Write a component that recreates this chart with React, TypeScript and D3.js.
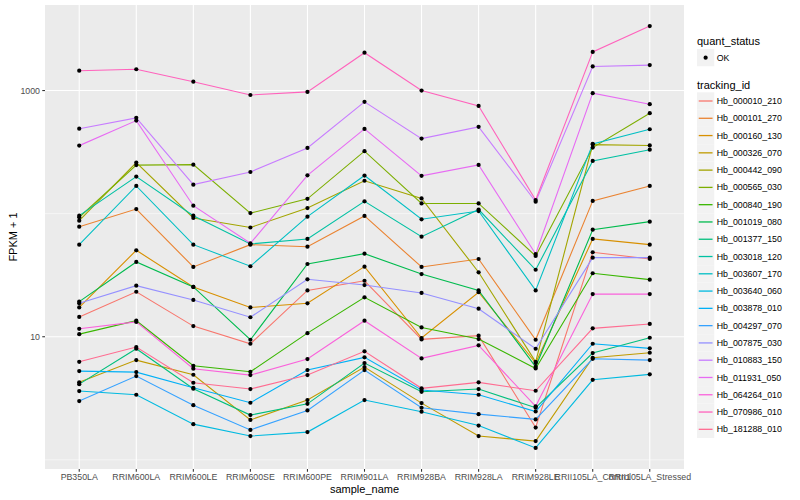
import * as d3 from "d3";

// sample order on the x axis
const samples = [
  "PB350LA",
  "RRIM600LA",
  "RRIM600LE",
  "RRIM600SE",
  "RRIM600PE",
  "RRIM901LA",
  "RRIM928BA",
  "RRIM928LA",
  "RRIM928LE",
  "RRII105LA_Control",
  "RRII105LA_Stressed",
];

const trackingIds = [
  "Hb_000010_210",
  "Hb_000101_270",
  "Hb_000160_130",
  "Hb_000326_070",
  "Hb_000442_090",
  "Hb_000565_030",
  "Hb_000840_190",
  "Hb_001019_080",
  "Hb_001377_150",
  "Hb_003018_120",
  "Hb_003607_170",
  "Hb_003640_060",
  "Hb_003878_010",
  "Hb_004297_070",
  "Hb_007875_030",
  "Hb_010883_150",
  "Hb_011931_050",
  "Hb_064264_010",
  "Hb_070986_010",
  "Hb_181288_010",
];

// ggplot default hue palette, 20 levels
const hueColors = [
  "#F8766D", "#EA8331", "#D89000", "#C09B00", "#A3A500",
  "#7CAE00", "#39B600", "#00BB4E", "#00BF7D", "#00C1A3",
  "#00BFC4", "#00BAE0", "#00B0F6", "#35A2FF", "#9590FF",
  "#C77CFF", "#E76BF3", "#FA62DB", "#FF62BC", "#FF6C91",
];

// FPKM + 1, one value per sample
const hb_000010_210 = [14.5, 23.2, 12.2, 8.77, 23.8, 28.5, 9.52, 10.2, 1.83, 48.6, 42.8];
const hb_000101_270 = [78.4, 109, 36.9, 56, 53.9, 95.8, 36.9, 42.8, 9.45, 127, 168];
const hb_000160_130 = [17.3, 50.4, 25.4, 17.3, 18.7, 37.1, 9.76, 23, 6.11, 62.3, 56];
const hb_000326_070 = [4.26, 6.46, 4.91, 2.11, 3.06, 5.67, 2.89, 1.56, 1.42, 6.75, 7.41];
const hb_000442_090 = [87.7, 260, 92.3, 77.2, 111, 185, 133, 33.4, 6.26, 364, 358];
const hb_000565_030 = [93.5, 248, 250, 101, 132, 322, 121, 121, 45.3, 344, 655];
const hb_000840_190 = [10.5, 13.5, 5.81, 5.19, 10.7, 20.9, 11.9, 9.58, 5.53, 32.8, 29.1];
const hb_001019_080 = [19.3, 40.5, 25.4, 9.45, 39, 47.3, 32.3, 23.8, 5.7, 74.1, 86.1];
const hb_001377_150 = [4.12, 7.99, 3.78, 2.31, 2.85, 6.11, 3.57, 3.76, 2.65, 7.37, 9.81];
const hb_003018_120 = [96.3, 200, 96.3, 56.7, 62.3, 126, 65, 108, 35, 268, 331];
const hb_003607_170 = [56, 168, 56, 37.4, 94.5, 204, 90, 105, 23.8, 369, 485];
const hb_003640_060 = [3.62, 3.38, 1.95, 1.56, 1.68, 3.06, 2.46, 1.9, 1.25, 4.47, 4.95];
const hb_003878_010 = [5.26, 5.16, 3.85, 2.91, 5.36, 6.8, 3.69, 3.38, 2.47, 8.77, 8.05];
const hb_004297_070 = [3.0, 4.79, 2.78, 1.75, 2.52, 5.36, 2.65, 2.35, 2.13, 6.62, 6.46];
const hb_007875_030 = [18.7, 26, 19.9, 14.4, 29.3, 26.3, 22.7, 16.9, 7.99, 43.9, 43.9];
const hb_010883_150 = [490, 600, 172, 218, 342, 810, 407, 507, 125, 1570, 1610];
const hb_011931_050 = [357, 570, 116, 57.4, 205, 488, 203, 249, 47, 953, 775];
const hb_064264_010 = [11.6, 13.2, 5.5, 4.88, 6.59, 13.5, 6.67, 8.51, 2.72, 22.2, 22.2];
const hb_070986_010 = [1450, 1490, 1180, 920, 975, 2030, 1000, 750, 129, 2060, 3340];
const hb_181288_010 = [6.26, 8.25, 4.23, 3.76, 4.88, 7.61, 3.81, 4.26, 3.64, 11.7, 12.7];

const seriesValues = [
  hb_000010_210, hb_000101_270, hb_000160_130, hb_000326_070, hb_000442_090,
  hb_000565_030, hb_000840_190, hb_001019_080, hb_001377_150, hb_003018_120,
  hb_003607_170, hb_003640_060, hb_003878_010, hb_004297_070, hb_007875_030,
  hb_010883_150, hb_011931_050, hb_064264_010, hb_070986_010, hb_181288_010,
];

const yMajorTicks = [10, 1000];
const yMinorTicks = [1, 100, 10000];
const statusLevels = ["OK"];

const W = 800;
const H = 500;
const panel = { left: 45, right: 684, top: 5, bottom: 469 };
const FONT = "'Liberation Sans', Arial, Helvetica, sans-serif";

export default function App() {
  const x = d3
    .scalePoint<string>()
    .domain(samples)
    .range([panel.left, panel.right])
    .padding(0.6);

  // log10 scale, expanded 5% on each side like ggplot
  const [lo, hi] = d3.extent(seriesValues.flat()) as [number, number];
  const lLo = Math.log10(lo);
  const lHi = Math.log10(hi);
  const pad = (lHi - lLo) * 0.05;
  const y = d3
    .scaleLog()
    .domain([10 ** (lLo - pad), 10 ** (lHi + pad)])
    .range([panel.bottom, panel.top]);

  const line = d3
    .line<number>()
    .x((_, i) => x(samples[i]) as number)
    .y((d) => y(d));

  const inPanel = (v: number) => y(v) >= panel.top && y(v) <= panel.bottom;

  const legendX = 697;
  const keySize = 17.28;
  const firstKeyY = 101;

  return (
    <div style={{ position: "absolute", left: 0, top: 0 }}>
      <svg width={W} height={H} style={{ display: "block", fontFamily: FONT }}>
        <rect width={W} height={H} fill="#fff" />
        <rect
          x={panel.left}
          y={panel.top}
          width={panel.right - panel.left}
          height={panel.bottom - panel.top}
          fill="#EBEBEB"
        />
        {/* grid */}
        {yMinorTicks.filter(inPanel).map((t) => (
          <line key={"mn" + t} x1={panel.left} x2={panel.right} y1={y(t)} y2={y(t)} stroke="#fff" strokeWidth={0.55} />
        ))}
        {yMajorTicks.map((t) => (
          <line key={"mj" + t} x1={panel.left} x2={panel.right} y1={y(t)} y2={y(t)} stroke="#fff" strokeWidth={1.07} />
        ))}
        {samples.map((s) => (
          <line key={"gx" + s} x1={x(s)} x2={x(s)} y1={panel.top} y2={panel.bottom} stroke="#fff" strokeWidth={1.07} />
        ))}

        {/* lines */}
        {seriesValues.map((vals, i) => (
          <path key={trackingIds[i]} d={line(vals) ?? ""} fill="none" stroke={hueColors[i]} strokeWidth={1.1} />
        ))}
        {/* points */}
        {seriesValues.map((vals, i) =>
          vals.map((v, j) => (
            <circle key={trackingIds[i] + j} cx={x(samples[j])} cy={y(v)} r={2.1} fill="#000" />
          ))
        )}

        {/* y axis */}
        {yMajorTicks.map((t) => (
          <g key={"yt" + t}>
            <line x1={panel.left - 2.74} x2={panel.left} y1={y(t)} y2={y(t)} stroke="#333" strokeWidth={1.07} />
            <text x={panel.left - 5} y={y(t)} dy="0.35em" textAnchor="end" fontSize={8.8} fill="#4D4D4D">
              {t}
            </text>
          </g>
        ))}
        <text
          transform={`translate(13.5,${(panel.top + panel.bottom) / 2}) rotate(-90)`}
          textAnchor="middle"
          dy="0.35em"
          fontSize={11}
          fill="#000"
        >
          FPKM + 1
        </text>

        {/* x axis */}
        {samples.map((s) => (
          <g key={"xt" + s}>
            <line x1={x(s)} x2={x(s)} y1={panel.bottom} y2={panel.bottom + 2.74} stroke="#333" strokeWidth={1.07} />
            <text x={x(s)} y={panel.bottom + 11} textAnchor="middle" fontSize={8.8} fill="#4D4D4D">
              {s}
            </text>
          </g>
        ))}
        <text x={(panel.left + panel.right) / 2} y={493} textAnchor="middle" fontSize={11} fill="#000">
          sample_name
        </text>

        {/* legend: quant_status */}
        <text x={legendX} y={44.5} fontSize={11} fill="#000">
          quant_status
        </text>
        {statusLevels.map((s, i) => (
          <g key={s} transform={`translate(${legendX},${49 + i * keySize})`}>
            <rect width={keySize} height={keySize} fill="#F2F2F2" />
            <circle cx={keySize / 2} cy={keySize / 2} r={2.1} fill="#000" />
            <text x={keySize + 2.5} y={keySize / 2} dy="0.35em" fontSize={8.8} fill="#000">
              {s}
            </text>
          </g>
        ))}

        {/* legend: tracking_id */}
        <text x={legendX} y={89} fontSize={11} fill="#000">
          tracking_id
        </text>
        {trackingIds.map((id, i) => {
          const cy = firstKeyY + i * keySize;
          return (
            <g key={"lg" + id} transform={`translate(${legendX},${cy - keySize / 2})`}>
              <rect width={keySize} height={keySize} fill="#F2F2F2" />
              <line
                x1={keySize * 0.1}
                x2={keySize * 0.9}
                y1={keySize / 2}
                y2={keySize / 2}
                stroke={hueColors[i]}
                strokeWidth={1.3}
              />
              <text x={keySize + 2.5} y={keySize / 2} dy="0.35em" fontSize={8.8} fill="#000">
                {id}
              </text>
            </g>
          );
        })}
      </svg>
    </div>
  );
}
